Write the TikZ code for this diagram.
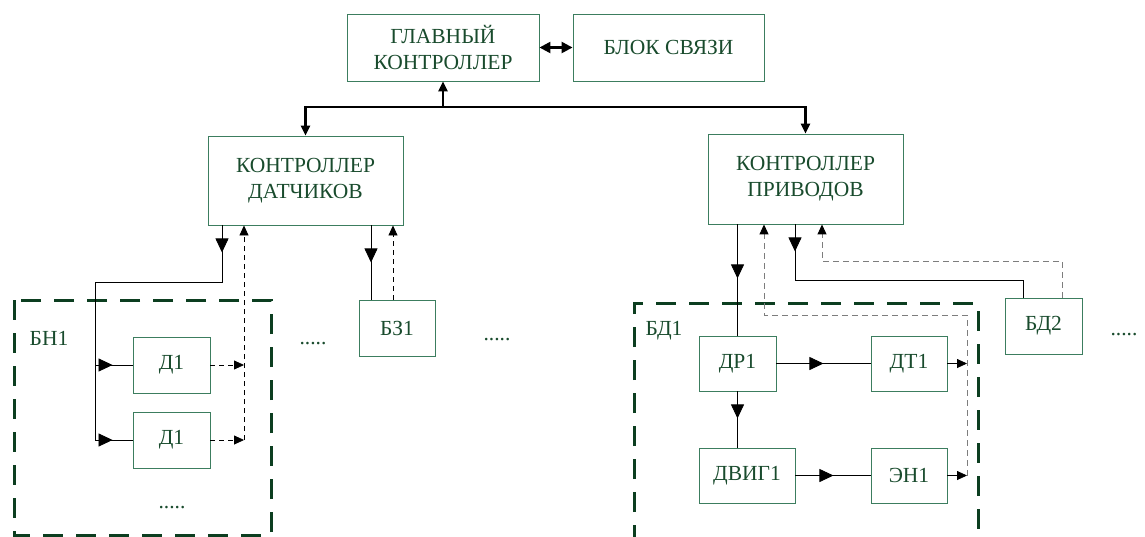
\documentclass[tikz,border=0pt]{standalone}
\usepackage{fontspec}
\setmainfont{Liberation Serif}
\usetikzlibrary{arrows.meta,decorations.markings}
\definecolor{txtgreen}{RGB}{25,75,45}
\definecolor{boxgreen}{RGB}{60,125,95}
\definecolor{grpgreen}{RGB}{12,62,32}
\definecolor{dgray}{RGB}{125,125,125}
\begin{document}
\begin{tikzpicture}[x=1pt,y=-1pt,
  blk/.style={draw=boxgreen,line width=0.9pt,text=txtgreen,font=\fontsize{21.5}{26}\selectfont,align=center,inner sep=0pt},
  lbl/.style={text=txtgreen,font=\fontsize{21.5}{26}\selectfont,inner sep=0pt,anchor=base},
  conn/.style={draw=black,line width=0.8pt},
  dconn/.style={draw=black,line width=0.8pt,dash pattern=on 5pt off 4pt},
  gconn/.style={draw=dgray,line width=1pt,dash pattern=on 6pt off 4pt},
  bus/.style={draw=black,line width=2.4pt},
  grp/.style={draw=grpgreen,line width=3pt,dash pattern=on 20pt off 13pt},
  tri/.tip={Triangle[length=10pt,width=9pt,black]},
  btri/.tip={Triangle[length=11pt,width=11pt]},
  marr/.style={postaction={decorate,decoration={markings,mark=at position #1 with {\arrow{Triangle[length=14pt,width=13pt]}}}}}
]
\useasboundingbox (0,0) rectangle (1145,536);
\clip (0,0) rectangle (1145,536);

% blocks
\node[blk,minimum width=192pt,minimum height=67pt] (main) at (443,47.5) {ГЛАВНЫЙ\\КОНТРОЛЛЕР};
\node[blk,minimum width=191pt,minimum height=67pt] (link) at (668.5,47.5) {БЛОК СВЯЗИ};
\node[blk,minimum width=195pt,minimum height=89pt] (kd) at (305.5,180.5) {КОНТРОЛЛЕР\\ДАТЧИКОВ};
\node[blk,minimum width=195pt,minimum height=90pt] (kp) at (805.5,179) {КОНТРОЛЛЕР\\ПРИВОДОВ};
\node[blk,minimum width=77pt,minimum height=56pt] (d1a) at (171.5,365) {Д1};
\node[blk,minimum width=77pt,minimum height=56pt] (d1b) at (171.5,440) {Д1};
\node[blk,minimum width=76pt,minimum height=56pt] (bz1) at (397,328) {БЗ1};
\node[blk,minimum width=77pt,minimum height=55pt] (dr1) at (737.5,363.5) {ДР1};
\node[blk,minimum width=76pt,minimum height=55pt] (dt1) at (909,363.5) {ДТ1};
\node[blk,minimum width=96pt,minimum height=55pt] (dvig1) at (747,475.5) {ДВИГ1};
\node[blk,minimum width=76pt,minimum height=55pt] (en1) at (909,475.5) {ЭН1};
\node[blk,minimum width=77pt,minimum height=56pt] (bd2) at (1043.5,326) {БД2};

% group boxes
\draw[grp] (14,300) rectangle (271,535);
\draw[grp] (634,545) -- (634,303) -- (978,303) -- (978,545);
\node[lbl] (bn1lbl) at (49,345) {БН1};
\node[lbl] (bd1lbl) at (664,335) {БД1};

% dots
\node[lbl] (dots1) at (172,508) {.....};
\node[lbl] (dots2) at (313,344) {.....};
\node[lbl] (dots3) at (497,340) {.....};
\node[lbl] (dots4) at (1124,335) {.....};

% bus
\coordinate (busL) at (305.5,107);
\coordinate (busR) at (805.5,107);
\draw[bus,{tri}-{tri}] (kd.north) -- (busL) -- (busR) -- (kp.north);
\draw[bus,-{tri}] (main.south |- busL) -- (main.south);
\draw[bus,{btri}-{btri}] (main.east) -- (link.west);

% sensors side
\coordinate (j1) at (222,282);
\coordinate (j2) at (95,282);
\coordinate (x244) at (244,0);
\coordinate (x371) at (371,0);
\coordinate (x393) at (393,0);
\draw[conn,marr=27pt,marr=-20pt] (kd.south -| j1) -- (j1) -- (j2) -- (d1b.west -| j2) -- (d1b.west);
\draw[conn,marr=-20pt] (d1a.west -| j2) -- (d1a.west);
\draw[dconn,-{tri}] (d1a.east) -- (d1a.east -| x244);
\draw[dconn,-{tri}] (d1b.east) -- (d1b.east -| x244);
\draw[dconn,-{tri}] (d1b.east -| x244) -- (kd.south -| x244);
\draw[conn,marr=37pt] (kd.south -| x371) -- (bz1.north -| x371);
\draw[dconn,-{tri}] (bz1.north -| x393) -- (kd.south -| x393);

% drives side
\coordinate (j3) at (795,280);
\coordinate (j4) at (1023,280);
\coordinate (g1) at (1062,261);
\coordinate (g2) at (822,261);
\coordinate (h1) at (764,315);
\coordinate (h2) at (967,315);
\draw[conn,marr=54pt] (kp.south -| dr1.north) -- (dr1.north);
\draw[conn,marr=27pt] (kp.south -| j3) -- (j3) -- (j4) -- (bd2.north -| j4);
\draw[gconn,-{tri}] (bd2.north -| g1) -- (g1) -- (g2) -- (kp.south -| g2);
\draw[gconn,-{tri}] (en1.east -| h2) -- (h2) -- (h1) -- (kp.south -| h1);
\draw[conn,-{tri}] (dt1.east) -- (dt1.east -| h2);
\draw[conn,-{tri}] (en1.east) -- (en1.east -| h2);
\draw[conn,marr=47pt] (dr1.east) -- (dt1.west);
\draw[conn,marr=27pt] (dr1.south) -- (dr1.south |- dvig1.north);
\draw[conn,marr=38pt] (dvig1.east) -- (en1.west);
\end{tikzpicture}
\end{document}
